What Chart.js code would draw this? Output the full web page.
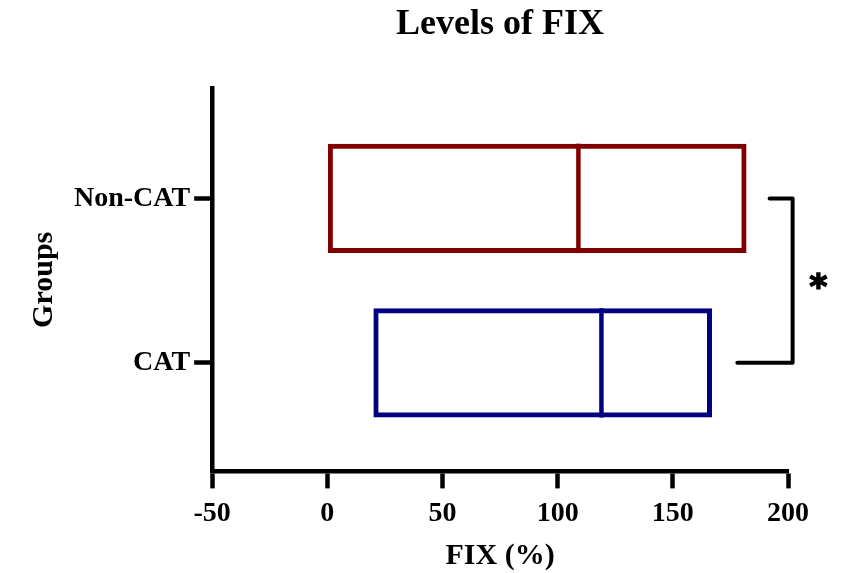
<!DOCTYPE html>
<html>
<head>
<meta charset="utf-8">
<title>Levels of FIX</title>
<script src="https://cdn.jsdelivr.net/npm/chart.js@4/dist/chart.umd.min.js"></script>
<style>
  html, body { margin: 0; padding: 0; background: #ffffff; }
  #wrap { width: 846px; height: 573px; }
</style>
</head>
<body>
<div id="wrap"><canvas id="chart" width="846" height="573"></canvas></div>
<script>
// Groups, bottom to top on the value axis (0 = CAT, 1 = Non-CAT)
const groups = ['CAT', 'Non-CAT'];
const groupPositions = [0, 1];

// FIX (%) per group: lower bound, upper bound and median of each box
const minValues = [20, 0];
const maxValues = [167, 182];
const medianValues = [119, 109];

// x-axis ticks
const xTicks = [-50, 0, 50, 100, 150, 200];

// Significance bracket between the two groups (x in FIX %)
const bracketEnds = [178, 192];
const bracketSpine = 202;
const bracketLabel = '*';

const boxColors = ['#000080', '#800000'];

const serif = '"Liberation Serif", "Times New Roman", serif';
const starFont = '"DejaVu Sans", sans-serif';

const boxData = groupPositions.map((y, i) => ({ y: y, x: [minValues[i], maxValues[i]] }));

// Median line inside each box and the significance bracket
const overlayPlugin = {
  id: 'overlay',
  afterDatasetsDraw(chart) {
    const ctx = chart.ctx;
    const xs = chart.scales.x;
    const ys = chart.scales.y;
    const meta = chart.getDatasetMeta(0);
    ctx.save();
    ctx.lineWidth = 4.5;
    meta.data.forEach((bar, i) => {
      const props = bar.getProps(['y', 'height'], true);
      const px = xs.getPixelForValue(medianValues[i]);
      ctx.strokeStyle = boxColors[i];
      ctx.beginPath();
      ctx.moveTo(px, props.y - props.height / 2);
      ctx.lineTo(px, props.y + props.height / 2);
      ctx.stroke();
    });

    // bracket
    const yA = ys.getPixelForValue(groupPositions[0]);
    const yB = ys.getPixelForValue(groupPositions[1]);
    const sx = xs.getPixelForValue(bracketSpine);
    ctx.lineWidth = 4;
    ctx.strokeStyle = '#000000';
    ctx.lineJoin = 'round';
    ctx.lineCap = 'round';
    ctx.beginPath();
    ctx.moveTo(xs.getPixelForValue(bracketEnds[1]), yB);
    ctx.lineTo(sx, yB);
    ctx.lineTo(sx, yA);
    ctx.lineTo(xs.getPixelForValue(bracketEnds[0]), yA);
    ctx.stroke();

    // star, sized so the glyph is about 18px wide, slightly emboldened
    ctx.fillStyle = '#000000';
    ctx.font = 'bold 50px ' + starFont;
    let m = ctx.measureText(bracketLabel);
    const size = 50 * 17 / (m.actualBoundingBoxLeft + m.actualBoundingBoxRight);
    ctx.font = 'bold ' + size.toFixed(1) + 'px ' + starFont;
    m = ctx.measureText(bracketLabel);
    const w = m.actualBoundingBoxLeft + m.actualBoundingBoxRight;
    const h = m.actualBoundingBoxAscent + m.actualBoundingBoxDescent;
    const cx = sx + 26;
    const cy = (yA + yB) / 2;
    const tx = cx - w / 2 + m.actualBoundingBoxLeft;
    const ty = cy - h / 2 + m.actualBoundingBoxAscent;
    ctx.textAlign = 'left';
    ctx.textBaseline = 'alphabetic';
    ctx.lineWidth = 1.6;
    ctx.lineJoin = 'miter';
    ctx.fillText(bracketLabel, tx, ty);
    ctx.strokeText(bracketLabel, tx, ty);
    ctx.restore();
  }
};

new Chart(document.getElementById('chart'), {
  type: 'bar',
  data: {
    datasets: [{
      data: boxData,
      backgroundColor: 'rgba(0,0,0,0)',
      borderColor: boxColors,
      borderWidth: 5,
      borderSkipped: false,
      inflateAmount: 0,
      categoryPercentage: 1,
      barPercentage: 0.665
    }]
  },
  options: {
    indexAxis: 'y',
    responsive: false,
    animation: false,
    layout: { padding: { left: 23, right: 58, top: 0, bottom: 0 } },
    plugins: {
      legend: { display: false },
      tooltip: { enabled: false },
      title: {
        display: true,
        text: 'Levels of FIX',
        fullSize: false,
        color: '#000000',
        font: { family: serif, size: 36, weight: 'bold', lineHeight: 1.2 },
        padding: { top: 3, bottom: 42 }
      }
    },
    scales: {
      x: {
        type: 'linear',
        min: xTicks[0],
        max: xTicks[xTicks.length - 1],
        afterBuildTicks: (axis) => { axis.ticks = xTicks.map(v => ({ value: v })); },
        border: { display: true, width: 4.5, color: '#000000' },
        grid: { drawOnChartArea: false, drawTicks: true, tickLength: 17, tickWidth: 4.5, tickColor: '#000000' },
        ticks: {
          color: '#000000',
          padding: 9,
          maxRotation: 0,
          font: { family: serif, size: 28, weight: 'bold' }
        },
        title: {
          display: true,
          text: 'FIX (%)',
          color: '#000000',
          font: { family: serif, size: 30, weight: 'bold', lineHeight: 1.1 },
          padding: { top: 0, bottom: 0 }
        }
      },
      y: {
        type: 'linear',
        offset: false,
        min: -0.66,
        max: 1.67,
        afterBuildTicks: (axis) => { axis.ticks = groupPositions.map(v => ({ value: v })); },
        border: { display: true, width: 4.5, color: '#000000' },
        grid: { offset: false, drawOnChartArea: false, drawTicks: true, tickLength: 18, tickWidth: 4.5, tickColor: '#000000' },
        ticks: {
          color: '#000000',
          padding: 4,
          font: { family: serif, size: 28, weight: 'bold' },
          callback: (v) => groups[groupPositions.indexOf(v)]
        },
        title: {
          display: true,
          text: 'Groups',
          color: '#000000',
          font: { family: serif, size: 30, weight: 'bold', lineHeight: 1.2 },
          padding: { top: 3, bottom: 8 }
        }
      }
    }
  },
  plugins: [overlayPlugin]
});
</script>
</body>
</html>
